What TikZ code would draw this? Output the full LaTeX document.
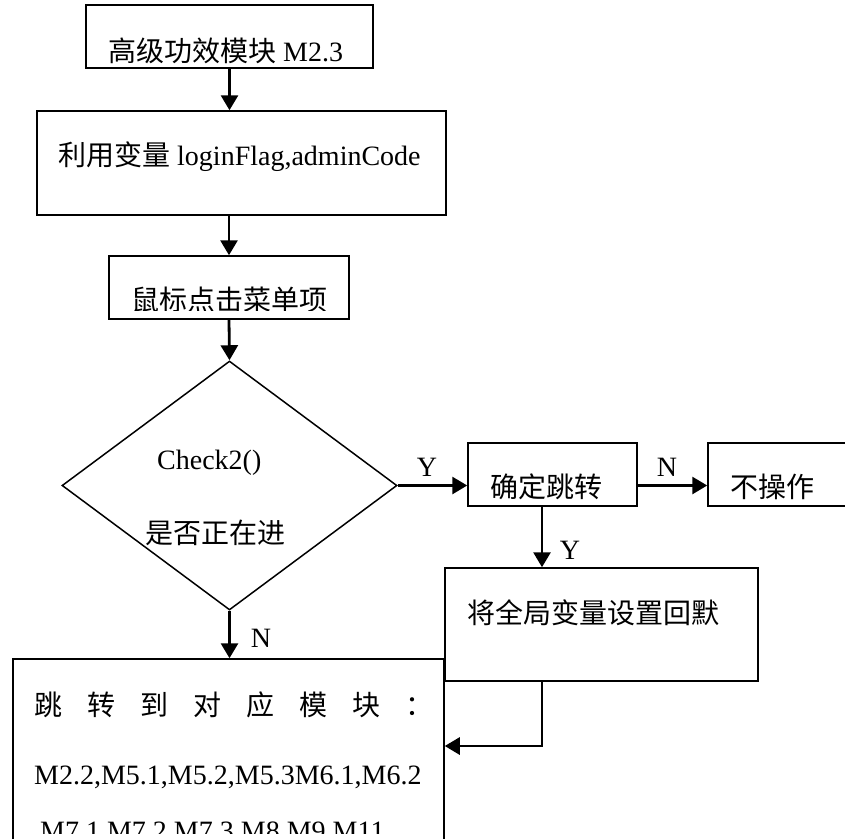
\documentclass[tikz,border=0pt]{standalone}
\usepackage{fontspec}
\setmainfont{Liberation Serif}
\newfontfamily\cjk{Noto Sans CJK SC}
\usetikzlibrary{arrows.meta,shapes.geometric}
\newcommand\gap{\hskip25pt}
\begin{document}
\begin{tikzpicture}[x=1pt, y=-1pt, font=\fontsize{28}{33}\selectfont, line join=miter,
	box/.style={draw, line width=1.5pt, inner sep=0pt},
	txt/.style={anchor=west, inner sep=0pt},
	lbl/.style={inner sep=0pt},
	flow/.style={line width=2.8pt, -{Triangle[length=15pt,width=17pt]}}]
	\useasboundingbox (0,0) rectangle (845,838);
	\clip (0,0) rectangle (845,838);
	\node[box, minimum width=287pt, minimum height=63pt] (start) at (229.5,36.5) {};
	\node[box, minimum width=409pt, minimum height=104pt] (vars) at (241.5,163) {};
	\node[box, minimum width=240pt, minimum height=63pt] (menu) at (229,287.5) {};
	\node[box, diamond, minimum width=335pt, minimum height=249pt] (check) at (229.5,485.5) {};
	\node[box, minimum width=169pt, minimum height=63pt] (jump) at (552.5,474.5) {};
	\node[box, minimum width=160pt, minimum height=63pt] (noop) at (788,474.5) {};
	\node[box, minimum width=313pt, minimum height=113pt] (reset) at (601.5,624.5) {};
	\node[box, minimum width=431pt, minimum height=241pt] (target) at (228.5,779.5) {};
	\node[txt] (tstart) at (108,51) {{\cjk 高级功效模块} M2.3};
	\node[txt] (tvars) at (58,157) {{\cjk 利用变量} loginFlag,adminCode};
	\begin{scope}
		\clip (109,256) rectangle (349,310);
		\node[txt] (tmenu) at (131,300) {\cjk 鼠标点击菜单项};
	\end{scope}
	\node[txt] (tcheck) at (157,463) {Check2()};
	\node[txt] (tcheckb) at (145,533) {\cjk 是否正在进};
	\node[txt] (tjump) at (490,487) {\cjk 确定跳转};
	\node[txt] (tnoop) at (730,487) {\cjk 不操作};
	\node[txt] (treset) at (467,613) {\cjk 将全局变量设置回默};
	\node[txt] (ttarget) at (34,705) {\cjk 跳\gap 转\gap 到\gap 对\gap 应\gap 模\gap 块\gap ：};
	\node[txt] (ttargetb) at (34,777) {M2.2,M5.1,M5.2,M5.3M6.1,M6.2};
	\begin{scope}
		\clip (13,800) rectangle (444,833);
		\node[txt, anchor=base west] (ttargetc) at (40,840) {M7.1,M7.2,M7.3,M8,M9,M11};
	\end{scope}
	\coordinate (jd) at (542,0);
	\coordinate (back) at (542,746);
	\draw[flow] (start.south) -- (start.south |- vars.north);
	\draw[flow] (menu.north |- vars.south) -- (menu.north);
	\draw[flow] (menu.south) -- (check.north);
	\draw[flow] (check.east) -- (check.east -| jump.west);
	\draw[flow] (check.east -| jump.east) -- (check.east -| noop.west);
	\draw[flow] (jd |- jump.south) -- (jd |- reset.north);
	\draw[flow] (check.south) -- (check.south |- target.north);
	\draw[flow] (jd |- reset.south) -- (back) -- (back -| target.east);
	\node[lbl] (yjump) at (427,467) {Y};
	\node[lbl] (nnoop) at (667,467) {N};
	\node[lbl] (yreset) at (570,550) {Y};
	\node[lbl] (ntarget) at (261,638) {N};
\end{tikzpicture}
\end{document}
